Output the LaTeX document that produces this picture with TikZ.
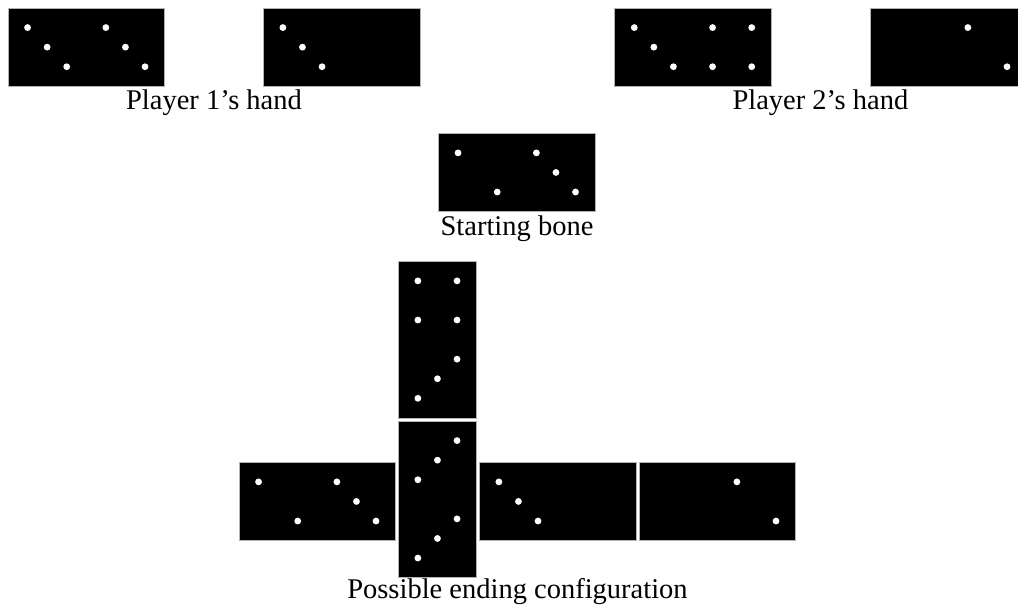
\documentclass[tikz,border=0pt]{standalone}
\usepackage{fontspec}
\setmainfont{Liberation Serif}
\newcommand\qu{19.575}
\newcommand\bonebox[4]{\path[bonestyle] (#1,#2) rectangle ++(#3,#4);}
\newcommand\pipset[3]{\foreach \i/\j in {#3} {\fill[pipstyle] (#1+\i*\qu,#2+\j*\qu) circle (3.4);}}
\newcommand\hbone[4]{\bonebox{#1}{#2}{156.6}{78.3}%
  \ifx&#3&\else\pipset{#1}{#2}{#3}\fi
  \ifx&#4&\else\pipset{#1+78.3}{#2}{#4}\fi}
\newcommand\vbone[4]{\bonebox{#1}{#2}{78.3}{156.6}%
  \ifx&#3&\else\pipset{#1}{#2}{#3}\fi
  \ifx&#4&\else\pipset{#1}{#2+78.3}{#4}\fi}
\begin{document}
\begin{tikzpicture}[x=1pt,y=-1pt,
  bonestyle/.style={fill=black,draw=gray!60,line width=0.8pt},
  pipstyle/.style={fill=white},
  lbl/.style={anchor=base,inner sep=0pt,font=\fontsize{28.5}{34}\selectfont}]
\path[use as bounding box] (0,0) rectangle (1018,608);
\clip (0,0) rectangle (1018,608);
% Player 1's hand
\hbone{8}{8}{1/1,2/2,3/3}{1/1,2/2,3/3}
\hbone{263.3}{8}{1/1,2/2,3/3}{}
\node[lbl] (p1) at (214,109) {Player 1’s hand};
% Player 2's hand
\hbone{614.7}{8}{1/1,2/2,3/3}{1/1,3/1,1/3,3/3}
\hbone{870}{8}{}{1/1,3/3}
\node[lbl] (p2) at (820.4,109) {Player 2’s hand};
% Starting bone
\hbone{438.5}{133.3}{1/1,3/3}{1/1,2/2,3/3}
\node[lbl] (sb) at (517,235) {Starting bone};
% Possible ending configuration
\vbone{398.3}{261.3}{1/1,3/1,1/3,3/3}{3/1,2/2,1/3}
\vbone{398.3}{421}{3/1,2/2,1/3}{3/1,2/2,1/3}
\hbone{239}{462.3}{1/1,3/3}{1/1,2/2,3/3}
\hbone{479.3}{462.3}{1/1,2/2,3/3}{}
\hbone{639}{462.3}{}{1/1,3/3}
\node[lbl] (pe) at (517.5,598.5) {Possible ending configuration};
\end{tikzpicture}
\end{document}
